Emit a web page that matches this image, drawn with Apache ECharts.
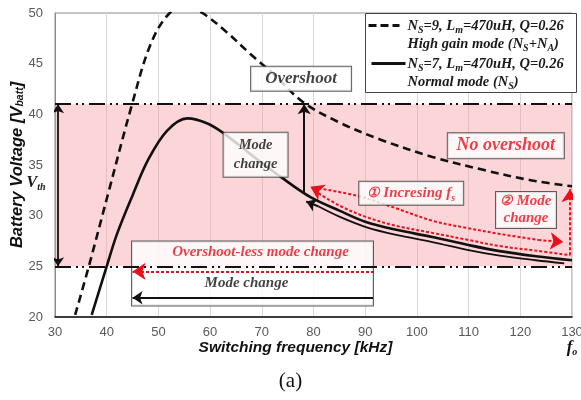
<!DOCTYPE html>
<html>
<head>
<meta charset="utf-8">
<script src="https://cdn.jsdelivr.net/npm/echarts@6/dist/echarts.min.js"></script>
<style>
  html, body { margin: 0; padding: 0; background: #fff; }
  #main { width: 581px; height: 400px; }
</style>
</head>
<body>
<div id="main"></div>
<script>
// high gain mode curve, Ns=9 (dashed)
var hgFreq = [33.9, 36.7, 40.5, 44.8, 48.4, 52, 55.5, 58.5, 63, 67.9, 72, 78, 85, 93, 103, 113, 122, 130];
var hgVolt = [20.2, 25.3, 32.6, 40.8, 46.8, 49.9, 50.6, 50, 48.2, 45.9, 44.1, 41.2, 39.2, 37.5, 35.8, 34.5, 33.5, 32.9];
// normal mode curve, Ns=7 (solid)
var nmFreq = [37.1, 40, 42, 45, 48, 51.7, 55.6, 59.5, 62.7, 68, 74, 79.5, 85, 90, 96, 103, 110, 116, 123, 130];
var nmVolt = [20.2, 25, 28.2, 32, 35.5, 38.4, 39.6, 39.1, 38.1, 36, 33.7, 31.8, 30.5, 29.4, 28.6, 27.9, 27.1, 26.5, 26.0, 25.6];
// black return path under the normal curve
var backFreq = [128.5, 123, 116, 110, 103, 96, 90, 85, 81];
var backVolt = [25.3, 25.6, 26.05, 26.6, 27.4, 28.1, 28.9, 29.9, 30.9];
// red dotted paths
var incFreq = [81, 88.5, 95, 103, 109, 116, 123.5];
var incVolt = [32.7, 31.95, 30.9, 29.5, 28.85, 28.2, 27.6];
var redFreq = [81, 85, 90, 96, 103, 110, 116, 123, 129.6];
var redVolt = [32.2, 31.0, 29.9, 29.0, 28.3, 27.6, 27.0, 26.55, 26.1];
// overshoot-free band
var bandLow = 25;
var bandHigh = 41;

var RED = '#e8101c';
var SERIF = '"Liberation Serif","Times New Roman",serif';
var SANS = '"Liberation Sans",Arial,sans-serif';

function pairs(xs, ys) {
  return xs.map(function (x, i) { return [x, ys[i]]; });
}
function tok(extra) {
  return Object.assign({ fontFamily: SERIF, fontStyle: 'italic', fontWeight: 'bold', fontSize: 14, color: RED }, extra);
}

var chart = echarts.init(document.getElementById('main'));

// arrows (data coords)
var blackArrows = [
  [[78.2, 32.3], [78.2, 41]],
  [[81, 30.9], [78.6, 31.4]],
  [[91.5, 21.9], [45, 21.9]]
];
var redArrows = [
  [[91.7, 24.5], [45, 24.5]],
  [[129.6, 26.1], [129.6, 32.6]],
  [[81, 32.45], [79.4, 32.85]],
  [[123.5, 27.6], [128.3, 27.4]]
];

// text boxes
var notes = [
  { value: [77.6, 43.5], label: { formatter: 'Overshoot', color: '#111', fontSize: 17, width: 100, lineHeight: 22 } },
  { value: [68.8, 36.0], label: { formatter: 'Mode\nchange', color: '#111', fontSize: 14.5, width: 64, lineHeight: 19, padding: [5, 0, 1, 0] } },
  { value: [117.2, 36.9], label: { formatter: 'No overshoot', color: RED, fontSize: 18, width: 116, lineHeight: 23 } },
  { value: [98.9, 32.2], label: {
      formatter: '{n|\u2460} {t|Incresing f}{s|s}', width: 104, lineHeight: 21,
      rich: { n: tok({ fontSize: 14, lineHeight: 21 }), t: tok({ fontSize: 15, lineHeight: 21 }), s: tok({ fontSize: 10, lineHeight: 21, verticalAlign: 'bottom' }) }
  } },
  { value: [121.1, 30.55], label: {
      formatter: '{n|\u2461} {t|Mode}\n{t|change}', width: 60, padding: [1, 0, 1, 0],
      rich: { n: tok({ fontSize: 14, lineHeight: 17 }), t: tok({ fontSize: 15, lineHeight: 17 }) }
  } },
  { value: [68.2, 24.3], label: {
      formatter: '{r|Overshoot-less mode change}\n{k|Mode change}', width: 241,
      rich: { r: tok({ fontSize: 15, lineHeight: 20, width: 241, align: 'center', padding: [0, 0, 0, 16] }),
              k: tok({ fontSize: 15, lineHeight: 42, color: '#111', width: 241, align: 'center', padding: [0, 12, 0, 0] }) }
  } }
];

var option = {
  animation: false,
  grid: { left: 55, right: 9, top: 13, bottom: 83, show: true, borderColor: '#8c8c8c', borderWidth: 1, outerBoundsMode: 'none' },
  title: {
    text: '(a)', left: 'center', top: 366,
    textStyle: { fontFamily: SERIF, fontWeight: 'normal', fontSize: 21, color: '#111' }
  },
  xAxis: {
    type: 'value', min: 30, max: 130, interval: 10,
    name: 'Switching frequency [kHz]', nameLocation: 'middle', nameGap: 23, nameMoveOverlap: false,
    nameTextStyle: { fontFamily: SANS, fontStyle: 'italic', fontWeight: 'bold', fontSize: 15.5, color: '#111', padding: [0, 36, 0, 0] },
    axisLine: { lineStyle: { color: '#111', width: 1.5 } },
    axisTick: { show: false },
    splitLine: { show: true, lineStyle: { color: '#d9d9d9' } },
    axisLabel: {
      color: '#595959', fontFamily: SANS, fontSize: 13, margin: 9,
      formatter: function (v) { return v === 130 ? '130\n{f|f}{o|o}' : String(v); },
      rich: {
        f: { fontFamily: SERIF, fontStyle: 'italic', fontWeight: 'bold', fontSize: 17, color: '#111', lineHeight: 18 },
        o: { fontFamily: SERIF, fontStyle: 'italic', fontWeight: 'bold', fontSize: 10, color: '#111', lineHeight: 18, verticalAlign: 'bottom' }
      }
    }
  },
  yAxis: {
    type: 'value', min: 20, max: 50, interval: 5,
    name: 'Battery Voltage [V{b|batt}]', nameLocation: 'middle', nameGap: 29, nameMoveOverlap: false,
    nameTextStyle: {
      fontFamily: SANS, fontStyle: 'italic', fontWeight: 'bold', fontSize: 16.5, color: '#111',
      rich: { b: { fontFamily: SANS, fontStyle: 'italic', fontWeight: 'bold', fontSize: 10.5, color: '#111', verticalAlign: 'bottom' } }
    },
    axisLine: { show: true, lineStyle: { color: '#8c8c8c' } },
    axisTick: { show: false },
    splitLine: { show: false },
    axisLabel: { color: '#595959', fontFamily: SANS, fontSize: 13, margin: 12 }
  },
  series: [
    {
      name: 'Ns=7', type: 'line', data: pairs(nmFreq, nmVolt), smooth: 0.35, showSymbol: false, z: 2,
      lineStyle: { color: '#111', width: 2.6 },
      markArea: {
        silent: true,
        itemStyle: { color: 'rgba(244,150,155,0.40)' },
        data: [[{ yAxis: bandLow }, { yAxis: bandHigh }]]
      },
      markLine: {
        silent: true, symbol: 'none', label: { show: false },
        lineStyle: { color: '#111', width: 2, type: [16, 5, 2, 4, 2, 5] },
        data: [{ yAxis: bandHigh }, { yAxis: bandLow }]
      }
    },
    {
      name: 'Ns=9', type: 'line', data: pairs(hgFreq, hgVolt), smooth: 0.35, showSymbol: false, z: 2,
      lineStyle: { color: '#111', width: 2.6, type: [8, 5] }
    },
    {
      type: 'line', data: pairs(backFreq, backVolt), smooth: 0.35, showSymbol: false, z: 3,
      lineStyle: { color: '#111', width: 1.8 }
    },
    {
      type: 'line', data: pairs(incFreq, incVolt), smooth: 0.35, showSymbol: false, z: 3,
      lineStyle: { color: RED, width: 2, type: [3, 2] }
    },
    {
      type: 'line', data: pairs(redFreq, redVolt), smooth: 0.35, showSymbol: false, z: 3,
      lineStyle: { color: RED, width: 2, type: [3, 2] }
    },
    {
      type: 'scatter', data: notes, symbolSize: 0, z: 4, silent: true,
      label: {
        show: true, position: 'inside', align: 'center', verticalAlign: 'middle',
        backgroundColor: '#fff', borderColor: '#3a3a3a', borderWidth: 1, padding: [1, 0, 1, 0],
        fontFamily: SERIF, fontStyle: 'italic', fontWeight: 'bold'
      }
    },
    {
      type: 'lines', coordinateSystem: 'cartesian2d', z: 5, silent: true,
      symbol: ['none', 'arrow'], symbolSize: 10,
      lineStyle: { color: '#111', width: 2, opacity: 1, curveness: 0 },
      data: blackArrows.map(function (c) { return { coords: c }; })
    },
    {
      type: 'lines', coordinateSystem: 'cartesian2d', z: 5, silent: true,
      symbol: ['arrow', 'arrow'], symbolSize: 9,
      lineStyle: { color: '#111', width: 1.8, opacity: 1, curveness: 0 },
      data: [{ coords: [[30.6, bandLow], [30.6, bandHigh]] }]
    },
    {
      type: 'lines', coordinateSystem: 'cartesian2d', z: 5, silent: true,
      symbol: ['none', 'arrow'], symbolSize: 13,
      lineStyle: { color: RED, width: 2, opacity: 1, curveness: 0, type: [3, 2] },
      data: redArrows.map(function (c) { return { coords: c }; })
    }
  ]
};
chart.setOption(option);

// legend box and V_th label
var vth = chart.convertToPixel({ gridIndex: 0 }, [30, 33.2]);
var legTok = function (extra) {
  return Object.assign({ fontFamily: SERIF, fontStyle: 'italic', fontWeight: 'bold', fontSize: 14.5, fill: '#1a1a1a' }, extra);
};
var legRich = {
  t: legTok({}),
  s: legTok({ fontSize: 10, verticalAlign: 'bottom', lineHeight: 17 })
};
chart.setOption({
  graphic: [
    {
      type: 'group', right: 4, top: 13, z: 10,
      children: [
        { type: 'rect', shape: { x: 0, y: 0, width: 211, height: 79 }, style: { fill: '#fff', stroke: '#444', lineWidth: 1 } },
        { type: 'line', shape: { x1: 3, y1: 12, x2: 34, y2: 12 }, style: { stroke: '#111', lineWidth: 3, lineDash: [8, 4] } },
        { type: 'line', shape: { x1: 6, y1: 50, x2: 40, y2: 50 }, style: { stroke: '#111', lineWidth: 3 } },
        { type: 'text', x: 42, y: 13, style: { text: '{t|N}{s|S}{t|=9, L}{s|m}{t|=470uH, Q=0.26}', rich: legRich, verticalAlign: 'middle' } },
        { type: 'text', x: 42, y: 31, style: { text: '{t|High gain mode (N}{s|S}{t|+N}{s|A}{t|)}', rich: legRich, verticalAlign: 'middle' } },
        { type: 'text', x: 42, y: 51, style: { text: '{t|N}{s|S}{t|=7, L}{s|m}{t|=470uH, Q=0.26}', rich: legRich, verticalAlign: 'middle' } },
        { type: 'text', x: 42, y: 69, style: { text: '{t|Normal mode (N}{s|S}{t|)}', rich: legRich, verticalAlign: 'middle' } }
      ]
    },
    {
      type: 'text', x: vth[0] - 19, y: vth[1], z: 10,
      style: {
        text: '{v|V}{s|th}', align: 'center', verticalAlign: 'middle',
        rich: {
          v: legTok({ fontSize: 16, lineHeight: 18 }),
          s: legTok({ fontSize: 10, lineHeight: 18, verticalAlign: 'bottom' })
        }
      }
    }
  ]
});
</script>
</body>
</html>
